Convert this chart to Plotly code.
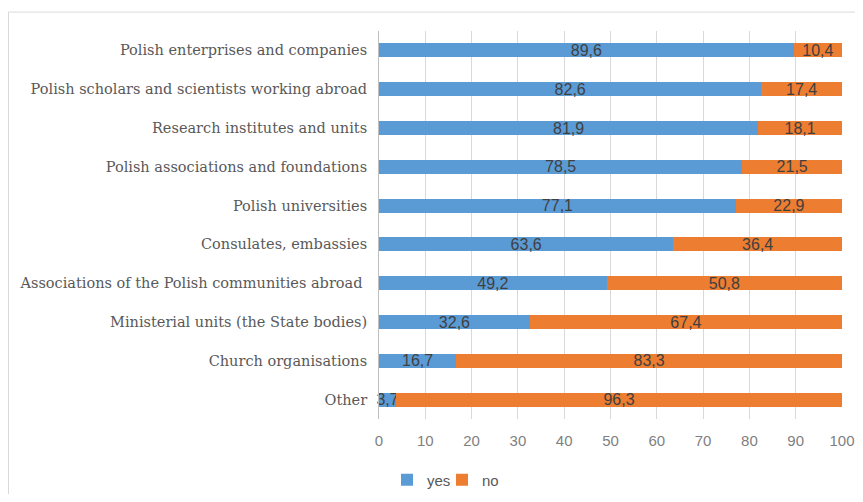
import plotly.graph_objects as go

categories = [
    "Polish enterprises and companies",
    "Polish scholars and scientists working abroad",
    "Research institutes and units",
    "Polish associations and foundations",
    "Polish universities",
    "Consulates, embassies",
    "Associations of the Polish communities abroad ",
    "Ministerial units (the State bodies)",
    "Church organisations",
    "Other",
]
yes_vals = [89.6, 82.6, 81.9, 78.5, 77.1, 63.6, 49.2, 32.6, 16.7, 3.7]
no_vals = [10.4, 17.4, 18.1, 21.5, 22.9, 36.4, 50.8, 67.4, 83.3, 96.3]
x_ticks = [0, 10, 20, 30, 40, 50, 60, 70, 80, 90, 100]

def fmt(v):
    return f"{v:.1f}".replace(".", ",")

lab_font = dict(family="Liberation Sans, Arial, sans-serif", size=16, color="#404040")

# page offset (default body margin) compensation
OFF = 8
W, H = 863 - 2 * OFF, 502 - 2 * OFF
# page coordinates of plot area
PX0, PX1, PY0, PY1 = 379, 842, 30.5, 419.5
L = PX0 - OFF
R = W - (PX1 - OFF)
T = PY0 - OFF
B = H - (PY1 - OFF)
pw = PX1 - PX0
ph = PY1 - PY0

def px(x):
    return (x - PX0) / pw

def py(y):
    return (PY1 - y) / ph

def cx(x):
    return (x - OFF) / W

def cy(y):
    return 1 - (y - OFF) / H

fig = go.Figure()
fig.add_trace(go.Bar(
    y=categories, x=yes_vals, name="yes", orientation="h",
    marker=dict(color="#5B9BD5", line=dict(width=0)),
    text=[fmt(v) for v in yes_vals], textposition="inside",
    insidetextanchor="middle", textfont=lab_font, cliponaxis=False,
    constraintext="none", legend="legend",
))
fig.add_trace(go.Bar(
    y=categories, x=no_vals, name="no", orientation="h",
    marker=dict(color="#ED7D31", line=dict(width=0)),
    text=[fmt(v) for v in no_vals], textposition="inside",
    insidetextanchor="middle", textfont=lab_font, cliponaxis=False,
    constraintext="none", legend="legend2",
))

leg_font = dict(family="Liberation Sans, Arial, sans-serif", size=15, color="#595959")

fig.update_layout(
    width=W, height=H,
    barmode="stack",
    bargap=0.64,
    margin=dict(l=L, r=R, t=T, b=B, autoexpand=False),
    paper_bgcolor="white", plot_bgcolor="white",
    uniformtext=dict(minsize=16, mode="show"),
    showlegend=True,
    legend=dict(
        xref="container", yref="container",
        x=cx(387), y=cy(480), xanchor="left", yanchor="middle",
        font=leg_font, itemwidth=30, bgcolor="rgba(0,0,0,0)",
    ),
    legend2=dict(
        xref="container", yref="container",
        x=cx(442), y=cy(480), xanchor="left", yanchor="middle",
        font=leg_font, itemwidth=30, bgcolor="rgba(0,0,0,0)",
    ),
    xaxis=dict(
        range=[0, 100], tickvals=x_ticks, ticktext=[str(t) for t in x_ticks],
        showgrid=True, gridcolor="#D9D9D9", gridwidth=1,
        zeroline=False, showline=False, ticks="", automargin=False,
        tickfont=dict(family="Liberation Sans, Arial, sans-serif", size=15, color="#7F7F7F"),
        ticklabelstandoff=11,
    ),
    yaxis=dict(
        categoryorder="array", categoryarray=categories[::-1],
        showgrid=False, zeroline=False, automargin=False,
        showline=True, linecolor="#BFBFBF", linewidth=1,
        ticks="", ticklabelstandoff=8,
        tickfont=dict(family="DejaVu Serif, serif", size=14.5, color="#595959"),
    ),
    shapes=[dict(
        type="rect", xref="paper", yref="paper",
        x0=px(8.5), x1=px(900), y0=py(540), y1=py(11.5),
        line=dict(color="#D9D9D9", width=1), fillcolor="rgba(0,0,0,0)", layer="below",
    )],
)

fig.write_html("out.html")
